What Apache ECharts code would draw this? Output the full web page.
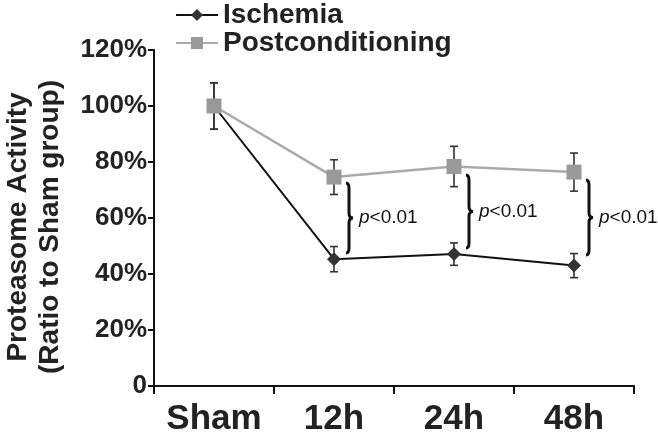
<!DOCTYPE html>
<html>
<head>
<meta charset="utf-8">
<script src="https://cdn.jsdelivr.net/npm/echarts@6/dist/echarts.min.js"></script>
<style>html,body{margin:0;padding:0;background:#fff}#c{width:658px;height:441px}</style>
</head>
<body>
<div id="c"></div>
<script>
var categories = ['Sham', '12h', '24h', '48h'];
var ischemia = [100, 45.3, 47.1, 43.0];
var ischemiaErr = [8.3, 4.5, 4.0, 4.3];
var postcond = [100, 74.6, 78.4, 76.4];
var postcondErr = [8.3, 6.2, 7.2, 6.8];
var yTicks = [0, 20, 40, 60, 80, 100, 120];
// brace annotations: [category index, top value, bottom value, label]
var braces = [
  [1, 72.5, 47.5, 'p<0.01'],
  [2, 75.4, 49.3, 'p<0.01'],
  [3, 73.6, 46.8, 'p<0.01']
];

var FONT = '"Liberation Sans", Arial, sans-serif';
var chart = echarts.init(document.getElementById('c'));

function errData(mean, err) {
  return mean.map(function (m, i) { return [i, m - err[i], m + err[i]]; });
}
function errRender(params, api) {
  var lo = api.coord([api.value(0), api.value(1)]);
  var hi = api.coord([api.value(0), api.value(2)]);
  var w = 4;
  var st = { stroke: '#333', lineWidth: 1.6 };
  return {
    type: 'group',
    children: [
      { type: 'line', shape: { x1: lo[0], y1: lo[1], x2: hi[0], y2: hi[1] }, style: st },
      { type: 'line', shape: { x1: lo[0] - w, y1: lo[1], x2: lo[0] + w, y2: lo[1] }, style: st },
      { type: 'line', shape: { x1: hi[0] - w, y1: hi[1], x2: hi[0] + w, y2: hi[1] }, style: st }
    ]
  };
}
function braceRender(params, api) {
  var top = api.coord([api.value(0), api.value(1)]);
  var bot = api.coord([api.value(0), api.value(2)]);
  var bx = top[0] + 15;
  var y1 = top[1], y2 = bot[1], ym = (y1 + y2) / 2;
  var d = 'M' + (bx - 3) + ' ' + y1 +
    ' Q' + bx + ' ' + y1 + ' ' + bx + ' ' + (y1 + 5) +
    ' L' + bx + ' ' + (ym - 5) +
    ' Q' + bx + ' ' + ym + ' ' + (bx + 4) + ' ' + ym +
    ' Q' + bx + ' ' + ym + ' ' + bx + ' ' + (ym + 5) +
    ' L' + bx + ' ' + (y2 - 5) +
    ' Q' + bx + ' ' + y2 + ' ' + (bx - 3) + ' ' + y2;
  var label = braces[params.dataIndex][3];
  return {
    type: 'group',
    children: [
      { type: 'path', shape: { pathData: d }, style: { stroke: '#111', lineWidth: 3, fill: null } },
      {
        type: 'text',
        x: bx + 10, y: ym,
        style: {
          text: '{i|' + label.charAt(0) + '}' + label.slice(1),
          fill: '#111', fontSize: 19, fontFamily: FONT,
          verticalAlign: 'middle', align: 'left',
          rich: { i: { fontStyle: 'italic', fontSize: 19, fontFamily: FONT, fill: '#111' } }
        }
      }
    ]
  };
}

chart.setOption({
  animation: false,
  backgroundColor: '#fff',
  grid: { left: 154, right: 24, top: 50, bottom: 55, containLabel: false, outerBoundsMode: 'none' },
  legend: {
    orient: 'vertical', left: 175, top: 1, padding: 0,
    itemWidth: 42, itemHeight: 15, itemGap: 0,
    data: ['Ischemia', 'Postconditioning'],
    textStyle: { fontSize: 28, fontWeight: 'bold', fontFamily: FONT, color: '#222', lineHeight: 26 }
  },
  xAxis: {
    type: 'category', data: categories, boundaryGap: true,
    axisLine: { lineStyle: { color: '#111', width: 2 } },
    axisTick: { show: true, length: 8, interval: 0, lineStyle: { color: '#111', width: 2 } },
    axisLabel: { fontSize: 35, fontWeight: 'bold', fontFamily: FONT, color: '#222', margin: 16, interval: 0 }
  },
  yAxis: {
    type: 'value', min: 0, max: 120, interval: 20,
    name: 'Proteasome Activity\n(Ratio to Sham group)',
    nameLocation: 'middle', nameRotate: 90, nameGap: 88,
    nameTextStyle: { fontSize: 28, fontWeight: 'bold', fontFamily: FONT, color: '#222', lineHeight: 32, padding: [0, 18, 0, 0] },
    axisLine: { show: true, lineStyle: { color: '#111', width: 2 } },
    axisTick: { show: true, length: 6, lineStyle: { color: '#111', width: 2 } },
    splitLine: { show: false },
    axisLabel: {
      fontSize: 26, fontWeight: 'bold', fontFamily: FONT, color: '#222', margin: 7,
      formatter: function (v) { return v === 0 ? '0' : v + '%'; }
    }
  },
  series: [
    { type: 'custom', name: 'errI', renderItem: errRender, data: errData(ischemia, ischemiaErr), z: 1, silent: true },
    { type: 'custom', name: 'errP', renderItem: errRender, data: errData(postcond, postcondErr), z: 1, silent: true },
    {
      type: 'line', name: 'Ischemia', data: ischemia, z: 3,
      symbol: 'diamond', symbolSize: 14,
      lineStyle: { color: '#111', width: 2 },
      itemStyle: { color: '#333' }
    },
    {
      type: 'line', name: 'Postconditioning', data: postcond, z: 4,
      symbol: 'rect', symbolSize: 15,
      lineStyle: { color: '#aaa', width: 2.5 },
      itemStyle: { color: '#999' }
    },
    { type: 'custom', name: 'braces', renderItem: braceRender, data: braces.map(function (b) { return [b[0], b[1], b[2]]; }), z: 5, silent: true }
  ]
});
</script>
</body>
</html>
